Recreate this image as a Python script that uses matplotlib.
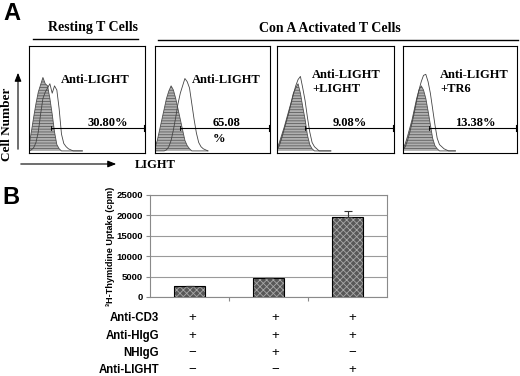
import numpy as np
import matplotlib
matplotlib.use("Agg")
import matplotlib.pyplot as plt
from matplotlib.transforms import blended_transform_factory

plt.rcParams['hatch.linewidth'] = 0.6

SERIF = 'Liberation Serif'
SANS = 'Liberation Sans'

# --- panel A: flow cytometry histograms (channel 0..100, height as fraction of box) ---
channels = np.arange(0, 48, 2)

resting_ctrl = [0.05, 0.18, 0.32, 0.45, 0.56, 0.63, 0.70, 0.64, 0.62, 0.50, 0.35, 0.18,
                0.06, 0.02, 0, 0, 0, 0, 0, 0, 0, 0, 0, 0]
resting_light = [0, 0.01, 0.03, 0.08, 0.18, 0.35, 0.50, 0.56, 0.60, 0.64, 0.55, 0.62,
                 0.58, 0.40, 0.16, 0.07, 0.04, 0.02, 0.01, 0, 0, 0, 0, 0]
act_ctrl = [0.03, 0.10, 0.20, 0.30, 0.40, 0.50, 0.57, 0.62, 0.58, 0.50, 0.40, 0.30,
            0.20, 0.10, 0.05, 0.02, 0, 0, 0, 0, 0, 0, 0, 0]
act_light = [0, 0, 0, 0, 0, 0.01, 0.04, 0.10, 0.20, 0.32, 0.45, 0.55,
             0.62, 0.69, 0.66, 0.60, 0.45, 0.30, 0.17, 0.08, 0.04, 0.02, 0.01, 0]
blk_ctrl = [0.02, 0.08, 0.15, 0.22, 0.30, 0.38, 0.46, 0.55, 0.60, 0.64, 0.55, 0.42,
            0.30, 0.15, 0.06, 0.02, 0, 0, 0, 0, 0, 0, 0, 0]
blk_light = [0.01, 0.05, 0.12, 0.20, 0.28, 0.36, 0.45, 0.54, 0.62, 0.68, 0.71, 0.60,
             0.48, 0.32, 0.18, 0.08, 0.04, 0.02, 0, 0, 0, 0, 0, 0]
tr6_ctrl = [0.02, 0.07, 0.14, 0.22, 0.30, 0.40, 0.50, 0.58, 0.62, 0.58, 0.50, 0.38,
            0.25, 0.12, 0.05, 0.02, 0, 0, 0, 0, 0, 0, 0, 0]
tr6_light = [0.01, 0.04, 0.10, 0.18, 0.27, 0.37, 0.48, 0.58, 0.66, 0.72, 0.73, 0.66,
             0.55, 0.40, 0.25, 0.12, 0.06, 0.04, 0.02, 0.01, 0, 0, 0, 0]

gate_start = [19, 22, 24, 23]
gate_level = 0.22
pct_labels = ['30.80%', '65.08\n%', '9.08%', '13.38%']
stain_labels = ['Anti-LIGHT', 'Anti-LIGHT', 'Anti-LIGHT\n+LIGHT', 'Anti-LIGHT\n+TR6']

# --- panel B: proliferation ---
conditions = [0.5, 1.5, 2.5]
uptake = [2700, 4700, 19500]
uptake_err = [0, 0, 1600]
row_names = ['Anti-CD3', 'Anti-HIgG', 'NHIgG', 'Anti-LIGHT']
row_signs = [['+', '+', '+'],
             ['+', '+', '+'],
             ['\u2212', '+', '\u2212'],
             ['\u2212', '\u2212', '+']]

W, H = 520, 376
fig = plt.figure(figsize=(W / 100, H / 100), dpi=100)


def box(x0, y0, x1, y1):
    return [x0 / W, 1 - y1 / H, (x1 - x0) / W, (y1 - y0) / H]


ctrl = [resting_ctrl, act_ctrl, blk_ctrl, tr6_ctrl]
stained = [resting_light, act_light, blk_light, tr6_light]
xs = [(29, 145), (155, 270), (277, 394), (403, 517)]

for i, (x0, x1) in enumerate(xs):
    ax = fig.add_axes(box(x0, 46, x1, 153))
    ax.fill_between(channels, 0, ctrl[i], facecolor='#b0b0b0', hatch='------',
                    edgecolor='#5e5e5e', linewidth=0)
    ax.plot(channels, ctrl[i], color='#505050', lw=0.6)
    ax.plot(channels, stained[i], color='#444444', lw=0.6)
    ax.plot([gate_start[i], 100], [gate_level, gate_level], color='black', lw=0.8)
    ax.plot([gate_start[i], gate_start[i]], [gate_level - 0.02, gate_level + 0.02], color='black', lw=0.6)
    ax.plot([99.5, 99.5], [gate_level - 0.03, gate_level + 0.03], color='black', lw=0.8)
    ax.set_xlim(0, 100)
    ax.set_ylim(-0.02, 1.0)
    ax.set_xticks([])
    ax.set_yticks([])
    for s in ax.spines.values():
        s.set_linewidth(0.8)

# --- panel B axes ---
bx = fig.add_axes(box(150, 195, 387, 297))
bx.bar(conditions, uptake, width=0.4, facecolor='#585858', hatch='xxxxx',
       edgecolor='#a8a8a8', linewidth=0, zorder=2)
bx.bar(conditions, uptake, width=0.4, fill=False, edgecolor='black', linewidth=0.8, zorder=3)
bx.errorbar(conditions, uptake, yerr=[np.zeros(3), uptake_err], fmt='none',
            ecolor='#333333', elinewidth=0.8, capsize=3, capthick=0.8, zorder=4)
bx.set_xlim(0, 3)
bx.set_ylim(0, 25000)
bx.set_yticks(range(0, 25001, 5000))
bx.set_xticks([1, 2])
bx.set_xticklabels([])
bx.grid(axis='y', color='#9a9a9a', lw=0.8, zorder=0)
for s in bx.spines.values():
    s.set_color('#8a8a8a')
    s.set_linewidth(0.8)
bx.tick_params(axis='both', length=3, color='#8a8a8a', width=0.8, pad=2)
for t in bx.get_yticklabels():
    t.set_fontfamily(SANS)
    t.set_fontweight('bold')
    t.set_fontsize(6.8)
bx.set_ylabel('\u00b3H-Thymidine Uptake (cpm)', family=SANS, weight='bold',
              fontsize=6.6, labelpad=1)

# table under panel B
tr = blended_transform_factory(bx.transData, fig.transFigure)
row_y = [318, 336, 353, 370]
sign_x = [0.53, 1.58, 2.56]
for r, name in enumerate(row_names):
    fig.text(159 / W, 1 - row_y[r] / H, name, ha='right', va='center',
             family=SANS, weight='bold', fontsize=8.3)
    for c in range(3):
        bx.text(sign_x[c], 1 - row_y[r] / H, row_signs[r][c], transform=tr,
                ha='center', va='center', family=SANS, fontsize=9.5, clip_on=False)

# --- overlay: labels, headers, arrows ---
ov = fig.add_axes([0, 0, 1, 1])
ov.set_xlim(0, W)
ov.set_ylim(H, 0)
ov.axis('off')

ov.text(12, 13, 'A', family=SANS, weight='bold', fontsize=17, ha='center', va='center')
ov.text(11, 197, 'B', family=SANS, weight='bold', fontsize=17, ha='center', va='center')

ov.text(93, 28, 'Resting T Cells', family=SERIF, weight='bold', fontsize=10, ha='center', va='center')
ov.plot([33, 138], [38.5, 38.5], color='black', lw=1.0)
ov.text(330, 28, 'Con A Activated T Cells', family=SERIF, weight='bold', fontsize=10,
        ha='center', va='center')
ov.plot([158, 518], [39.5, 39.5], color='black', lw=1.0)

ov.annotate('', xy=(18, 70), xytext=(18, 152),
            arrowprops=dict(arrowstyle='-|>,head_length=0.5,head_width=0.2', color='black', lw=0.8))
ov.annotate('', xy=(119, 164), xytext=(18, 164),
            arrowprops=dict(arrowstyle='-|>,head_length=0.5,head_width=0.2', color='black', lw=0.8))
ov.text(7, 124, 'Cell Number', family=SERIF, weight='bold', fontsize=9.5, rotation=90,
        ha='center', va='center')
ov.text(155, 165, 'LIGHT', family=SERIF, weight='bold', fontsize=9, ha='center', va='center')

stain_pos = [(61, 80), (192, 80), (312, 82), (440, 82)]
pct_pos = [(87, 123), (213, 131), (333, 123), (455, 123)]
for i in range(4):
    ov.text(*stain_pos[i], stain_labels[i], family=SERIF, weight='bold', fontsize=9,
            ha='left', va='center', linespacing=1.2)
    ov.text(*pct_pos[i], pct_labels[i], family=SERIF, weight='bold', fontsize=9,
            ha='left', va='center', linespacing=1.35)

fig.savefig('out.png', dpi=100)
